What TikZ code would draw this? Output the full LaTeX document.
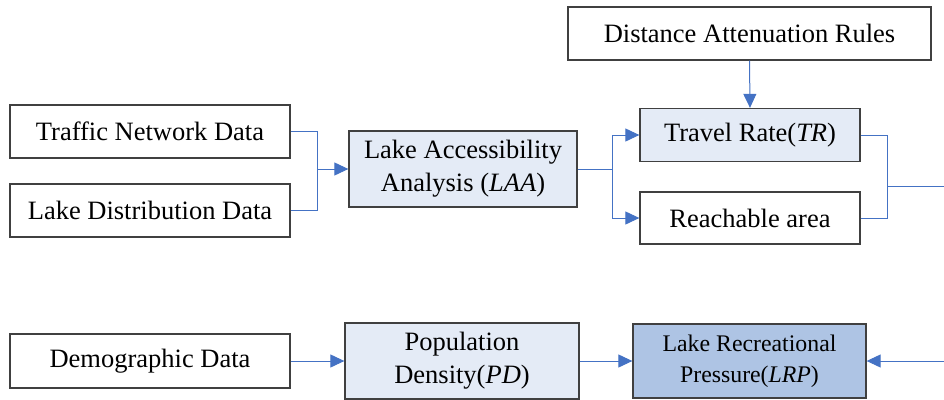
\documentclass[tikz,border=0pt]{standalone}
\usepackage{fontspec}
\setmainfont{Liberation Serif}
\usetikzlibrary{arrows.meta}
\definecolor{lightfill}{HTML}{E4EBF6}
\definecolor{darkfill}{HTML}{AEC4E4}
\definecolor{conncol}{HTML}{4472C4}
\definecolor{boxline}{HTML}{404040}
\begin{document}
\begin{tikzpicture}[x=1pt,y=-1pt,
  box/.style={draw=boxline,line width=1.3pt,rectangle,inner sep=0pt,align=center,
    font=\fontsize{26.5}{33}\selectfont},
  lbox/.style={box,fill=lightfill},
  conn/.style={draw=conncol,line width=1pt},
  arr/.style={conn,-{Triangle[length=14pt,width=13pt]}}]
\useasboundingbox (0,0) rectangle (944,399);
\node[box,minimum width=280pt,minimum height=53pt] (tnd) at (150,131.5) {Traffic Network Data};
\node[box,minimum width=280pt,minimum height=53pt] (ldd) at (150,210.5) {Lake Distribution Data};
\node[lbox,minimum width=228pt,minimum height=76pt] (laa) at (463,169) {Lake Accessibility\\Analysis (\textit{LAA})};
\node[box,minimum width=363pt,minimum height=53pt] (dar) at (749.5,33.5) {Distance Attenuation Rules};
\node[lbox,minimum width=220pt,minimum height=53pt] (tr) at (750,135) {Travel Rate(\textit{TR})};
\node[box,minimum width=220pt,minimum height=52pt] (ra) at (750,218) {Reachable area};
\node[box,minimum width=280pt,minimum height=54pt] (dd) at (150,361) {Demographic Data};
\node[lbox,minimum width=234pt,minimum height=76pt] (pd) at (462,361) {Population\\Density(\textit{PD})};
\node[box,fill=darkfill,minimum width=233pt,minimum height=74pt,font=\fontsize{23.8}{31}\selectfont] (lrp) at (749.5,361) {Lake Recreational\\Pressure(\textit{LRP})};
\coordinate (m1) at (317,169);
\coordinate (s1) at (612,169);
\coordinate (m2) at (887,186);
\coordinate (e1) at (945,186);
\coordinate (e2) at (945,361);
\draw[conn] (tnd.east) -| (m1);
\draw[conn] (ldd.east) -| (m1);
\draw[arr] (m1) -- (laa.west);
\draw[conn] (laa.east) -- (s1);
\draw[arr] (s1) |- (tr.west);
\draw[arr] (s1) |- (ra.west);
\draw[arr] (dar.south) -- (tr.north);
\draw[conn] (tr.east) -| (m2);
\draw[conn] (ra.east) -| (m2);
\draw[conn] (m2) -- (e1);
\draw[arr] (dd.east) -- (pd.west);
\draw[arr] (pd.east) -- (lrp.west);
\draw[arr] (e2) -- (lrp.east);
\end{tikzpicture}
\end{document}
